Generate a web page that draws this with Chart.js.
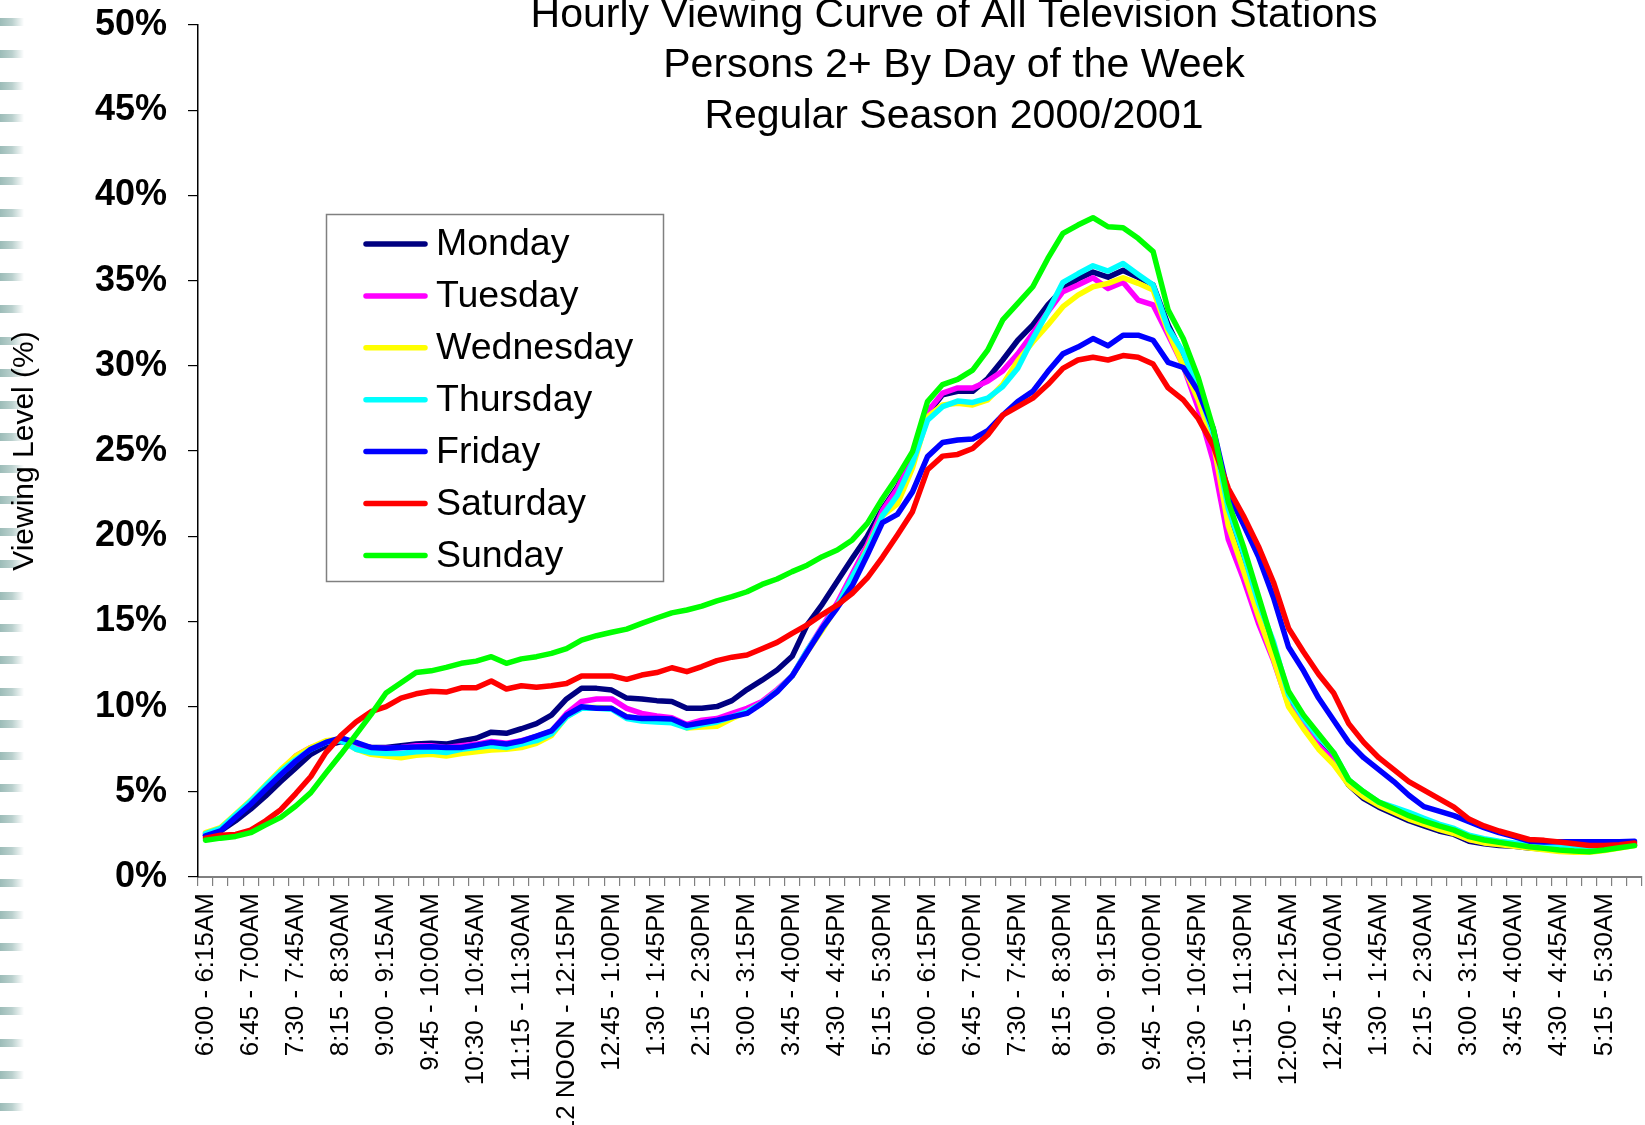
<!DOCTYPE html>
<html>
<head>
<meta charset="utf-8">
<script src="https://cdn.jsdelivr.net/npm/chart.js@4.4.1/dist/chart.umd.min.js"></script>
<style>
html,body{margin:0;padding:0;background:#fff;}
#wrap{position:relative;width:1645px;height:1125px;overflow:hidden;background:#fff;}
#deco{position:absolute;left:0;top:0;width:24px;height:1125px;
 background:
  linear-gradient(to right, rgba(255,255,255,0) 0%, rgba(255,255,255,0.3) 50%, rgba(255,255,255,1) 100%),
  repeating-linear-gradient(to bottom, rgba(0,0,0,0) 0px, rgba(0,0,0,0) 18px, #9cbcb8 18px, #9cbcb8 26px, rgba(0,0,0,0) 26px, rgba(0,0,0,0) 31.9px);}
canvas{position:absolute;left:0;top:0;}
</style>
</head>
<body>
<div id="wrap">
<div id="deco"></div>
<canvas id="c" width="1645" height="1125"></canvas>
</div>
<script>
const titleLines = ["Hourly Viewing Curve of All Television Stations", "Persons 2+ By Day of the Week", "Regular Season 2000/2001"];
const yAxisTitle = "Viewing Level (%)";

const categories = [
"6:00 - 6:15AM","6:15 - 6:30AM","6:30 - 6:45AM","6:45 - 7:00AM","7:00 - 7:15AM","7:15 - 7:30AM","7:30 - 7:45AM","7:45 - 8:00AM",
"8:00 - 8:15AM","8:15 - 8:30AM","8:30 - 8:45AM","8:45 - 9:00AM","9:00 - 9:15AM","9:15 - 9:30AM","9:30 - 9:45AM","9:45 - 10:00AM",
"10:00 - 10:15AM","10:15 - 10:30AM","10:30 - 10:45AM","10:45 - 11:00AM","11:00 - 11:15AM","11:15 - 11:30AM","11:30 - 11:45AM","11:45 - 12 NOON",
"12 NOON - 12:15PM","12:15 - 12:30PM","12:30 - 12:45PM","12:45 - 1:00PM","1:00 - 1:15PM","1:15 - 1:30PM","1:30 - 1:45PM","1:45 - 2:00PM",
"2:00 - 2:15PM","2:15 - 2:30PM","2:30 - 2:45PM","2:45 - 3:00PM","3:00 - 3:15PM","3:15 - 3:30PM","3:30 - 3:45PM","3:45 - 4:00PM",
"4:00 - 4:15PM","4:15 - 4:30PM","4:30 - 4:45PM","4:45 - 5:00PM","5:00 - 5:15PM","5:15 - 5:30PM","5:30 - 5:45PM","5:45 - 6:00PM",
"6:00 - 6:15PM","6:15 - 6:30PM","6:30 - 6:45PM","6:45 - 7:00PM","7:00 - 7:15PM","7:15 - 7:30PM","7:30 - 7:45PM","7:45 - 8:00PM",
"8:00 - 8:15PM","8:15 - 8:30PM","8:30 - 8:45PM","8:45 - 9:00PM","9:00 - 9:15PM","9:15 - 9:30PM","9:30 - 9:45PM","9:45 - 10:00PM",
"10:00 - 10:15PM","10:15 - 10:30PM","10:30 - 10:45PM","10:45 - 11:00PM","11:00 - 11:15PM","11:15 - 11:30PM","11:30 - 11:45PM","11:45 - 12:00AM",
"12:00 - 12:15AM","12:15 - 12:30AM","12:30 - 12:45AM","12:45 - 1:00AM","1:00 - 1:15AM","1:15 - 1:30AM","1:30 - 1:45AM","1:45 - 2:00AM",
"2:00 - 2:15AM","2:15 - 2:30AM","2:30 - 2:45AM","2:45 - 3:00AM","3:00 - 3:15AM","3:15 - 3:30AM","3:30 - 3:45AM","3:45 - 4:00AM",
"4:00 - 4:15AM","4:15 - 4:30AM","4:30 - 4:45AM","4:45 - 5:00AM","5:00 - 5:15AM","5:15 - 5:30AM","5:30 - 5:45AM","5:45 - 6:00AM"
];

const seriesNames = ["Monday","Tuesday","Wednesday","Thursday","Friday","Saturday","Sunday"];
const seriesColors = ["#000080","#FF00FF","#FFFF00","#00FFFF","#0000FF","#FF0000","#00FF00"];

const monday = [
2.42,2.7,3.3,3.98,4.76,5.6,6.4,7.2,7.7,7.95,7.75,7.6,7.6,7.7,7.8,7.85,
7.8,7.98,8.14,8.5,8.43,8.7,9.0,9.5,10.45,11.07,11.07,10.97,10.5,10.45,10.35,10.3,
9.9,9.9,10.0,10.35,11.0,11.55,12.15,12.95,14.8,16.0,17.35,18.7,20.0,21.6,22.9,24.6,
27.2,28.3,28.5,28.5,29.25,30.34,31.5,32.4,33.57,34.5,35.1,35.5,35.2,35.6,35.2,34.74,
32.4,30.6,28.6,26.0,21.5,18.8,16.0,13.3,10.5,9.0,7.8,6.8,5.4,4.6,4.1,3.7,
3.3,3.0,2.7,2.5,2.1,1.95,1.85,1.8,1.7,1.65,1.6,1.6,1.6,1.65,1.75,1.9];

const tuesday = [
2.5,2.8,3.6,4.4,5.3,6.2,7.1,7.6,7.9,8.1,7.8,7.6,7.55,7.6,7.7,7.7,
7.6,7.7,7.8,7.95,7.85,8.0,8.25,8.55,9.6,10.3,10.45,10.45,9.9,9.6,9.45,9.35,
8.95,9.2,9.3,9.6,9.9,10.3,11.0,11.8,13.3,14.7,16.1,17.8,19.5,21.5,22.8,24.6,
27.3,28.4,28.7,28.7,29.1,29.7,30.7,31.9,33.17,34.35,34.74,35.17,34.54,34.9,33.86,33.57,
31.8,30.0,27.5,24.4,19.8,17.5,14.9,12.7,10.1,9.0,7.7,6.8,5.5,4.8,4.3,3.9,
3.5,3.15,2.85,2.6,2.2,2.05,1.95,1.85,1.75,1.65,1.6,1.55,1.55,1.6,1.75,1.9];

const wednesday = [
2.6,2.9,3.7,4.5,5.4,6.3,7.1,7.6,8.0,8.1,7.5,7.2,7.1,7.0,7.15,7.2,
7.1,7.25,7.35,7.45,7.5,7.6,7.85,8.3,9.4,9.95,9.95,9.9,9.4,9.25,9.2,9.2,
8.75,8.8,8.85,9.3,9.7,10.2,10.9,11.8,13.2,14.5,15.9,17.5,19.3,21.2,21.9,24.0,
27.0,27.7,27.8,27.7,28.0,28.9,30.3,31.4,32.4,33.47,34.15,34.64,34.84,35.17,34.84,34.45,
32.0,30.0,28.0,25.5,20.6,18.0,15.3,12.8,10.0,8.7,7.5,6.6,5.4,4.7,4.2,3.8,
3.4,3.1,2.8,2.55,2.2,2.0,1.9,1.8,1.7,1.6,1.5,1.45,1.45,1.55,1.7,1.85];

const thursday = [
2.55,2.85,3.65,4.45,5.35,6.2,6.9,7.5,7.9,8.0,7.5,7.3,7.25,7.25,7.35,7.4,
7.3,7.5,7.6,7.7,7.6,7.8,8.0,8.4,9.4,9.9,9.9,9.85,9.3,9.15,9.1,9.05,
8.75,8.95,9.1,9.4,9.7,10.2,10.9,11.8,13.3,14.6,15.9,17.6,19.2,21.2,22.4,24.3,
26.8,27.6,27.93,27.85,28.1,28.78,29.86,31.6,33.17,34.9,35.4,35.87,35.56,36.0,35.36,34.74,
32.2,30.8,28.6,26.0,21.6,19.0,16.1,13.8,10.7,9.3,8.2,7.3,5.7,5.0,4.4,4.1,
3.8,3.45,3.1,2.85,2.45,2.25,2.1,2.0,1.9,1.8,1.75,1.7,1.65,1.7,1.85,2.05];

const friday = [
2.42,2.7,3.5,4.27,5.15,6.0,6.8,7.5,7.9,8.17,7.9,7.6,7.55,7.6,7.63,7.65,
7.6,7.6,7.74,7.9,7.8,7.98,8.27,8.57,9.5,9.99,9.9,9.9,9.4,9.3,9.3,9.27,
8.9,9.05,9.2,9.4,9.6,10.19,10.87,11.8,13.2,14.6,15.8,17.1,18.9,20.8,21.28,22.6,
24.67,25.5,25.65,25.7,26.2,27.1,27.9,28.5,29.66,30.7,31.1,31.6,31.18,31.8,31.8,31.5,
30.2,29.9,28.5,26.3,22.5,20.7,18.8,16.4,13.5,12.1,10.5,9.2,7.9,7.0,6.3,5.6,
4.8,4.13,3.87,3.6,3.25,2.9,2.6,2.37,2.1,2.05,2.07,2.07,2.07,2.07,2.07,2.1];

const saturday = [
2.28,2.45,2.5,2.75,3.3,3.95,4.9,5.9,7.3,8.3,9.1,9.7,10.0,10.5,10.75,10.9,
10.85,11.1,11.1,11.5,11.03,11.22,11.13,11.22,11.36,11.8,11.8,11.8,11.6,11.85,12.0,12.28,
12.05,12.35,12.7,12.9,13.03,13.4,13.77,14.3,14.8,15.4,15.96,16.65,17.56,18.76,20.07,21.44,
23.9,24.7,24.8,25.15,25.94,27.1,27.6,28.1,28.9,29.85,30.34,30.5,30.34,30.6,30.5,30.1,
28.7,28.0,26.9,25.3,22.8,21.2,19.4,17.3,14.6,13.2,11.9,10.8,9.0,7.9,7.0,6.3,
5.6,5.1,4.6,4.1,3.4,3.0,2.7,2.45,2.2,2.15,2.05,1.95,1.85,1.85,1.9,2.0];

const sunday = [
2.16,2.28,2.38,2.6,3.06,3.5,4.17,4.95,6.1,7.2,8.36,9.53,10.8,11.4,12.0,12.1,
12.3,12.54,12.67,12.93,12.54,12.8,12.93,13.12,13.4,13.9,14.16,14.36,14.55,14.88,15.2,15.5,
15.67,15.9,16.2,16.45,16.74,17.17,17.49,17.92,18.3,18.8,19.19,19.78,20.75,22.2,23.5,24.96,
27.9,28.9,29.2,29.75,30.92,32.69,33.66,34.64,36.3,37.77,38.26,38.69,38.16,38.1,37.48,36.7,
33.27,31.6,29.3,26.3,22.0,19.4,16.5,13.6,10.9,9.5,8.4,7.3,5.7,5.0,4.4,4.0,
3.6,3.28,3.0,2.75,2.37,2.17,2.03,1.9,1.78,1.68,1.58,1.52,1.48,1.58,1.72,1.84];

const seriesValues = [monday, tuesday, wednesday, thursday, friday, saturday, sunday];

const yMin = 0, yMax = 50, yStep = 5;
const labelEvery = 3;

const FONT = '"Liberation Sans", Arial, Helvetica, sans-serif';

const overlay = {
  id: 'overlay',
  afterDraw(chart) {
    const ctx = chart.ctx;
    ctx.save();
    // title
    ctx.fillStyle = '#000';
    ctx.font = '41px ' + FONT;
    ctx.textAlign = 'center';
    ctx.textBaseline = 'alphabetic';
    titleLines.forEach((t, i) => ctx.fillText(t, 954, 26.5 + 50.5 * i));
    // legend
    const bx = 326, by = 214, bw = 337, bh = 367;
    ctx.fillStyle = '#fff';
    ctx.fillRect(bx, by, bw, bh);
    ctx.strokeStyle = '#808080';
    ctx.lineWidth = 1.5;
    ctx.strokeRect(bx + 0.5, by + 0.5, bw, bh);
    chart.data.datasets.forEach((ds, i) => {
      const y = 244 + 51.9 * i;
      ctx.strokeStyle = ds.borderColor;
      ctx.lineWidth = 5.5;
      ctx.lineCap = 'round';
      ctx.beginPath();
      ctx.moveTo(366, y);
      ctx.lineTo(425, y);
      ctx.stroke();
      ctx.fillStyle = '#000';
      ctx.font = '37.5px ' + FONT;
      ctx.textAlign = 'left';
      ctx.textBaseline = 'middle';
      ctx.fillText(ds.label, 436, y + 1);
    });
    ctx.restore();
  }
};

new Chart(document.getElementById('c'), {
  type: 'line',
  data: {
    labels: categories,
    datasets: seriesNames.map((name, i) => ({
      label: name,
      data: seriesValues[i],
      borderColor: seriesColors[i],
      backgroundColor: seriesColors[i],
      borderWidth: 5.5,
      pointRadius: 0,
      pointHoverRadius: 0,
      tension: 0,
      fill: false,
      borderJoinStyle: 'round',
      borderCapStyle: 'round',
      order: seriesNames.length - 1 - i
    }))
  },
  options: {
    responsive: false,
    animation: false,
    events: [],
    layout: { padding: { left: 0, top: 25, right: 3, bottom: 0 } },
    plugins: {
      legend: { display: false },
      title: { display: false },
      tooltip: { enabled: false }
    },
    scales: {
      x: {
        type: 'category',
        offset: true,
        grid: { display: true, drawOnChartArea: false, drawTicks: true, tickLength: 9, color: '#808080', lineWidth: 1.2, offset: true },
        border: { display: true, color: '#808080', width: 2 },
        ticks: {
          autoSkip: false,
          minRotation: 90,
          maxRotation: 90,
          padding: 7,
          color: '#000',
          font: { family: FONT, size: 26 },
          callback: function(v, idx) { return idx % labelEvery === 0 ? categories[idx] : ''; }
        },
        afterFit: function(s) { s.height = 248; s.paddingLeft = 0; s.paddingRight = 0; }
      },
      y: {
        min: yMin, max: yMax,
        grid: { display: true, drawOnChartArea: false, drawTicks: true, tickLength: 10, color: '#000', lineWidth: 1.2 },
        border: { display: true, color: '#000', width: 1.5 },
        ticks: {
          stepSize: yStep,
          padding: 21,
          color: '#000',
          font: { family: FONT, size: 36, weight: 'bold' },
          callback: function(v) { return v + '%'; }
        },
        title: { display: true, text: yAxisTitle, color: '#000', font: { family: FONT, size: 30 }, padding: { top: 7, bottom: 0 } },
        afterFit: function(s) { s.width = 198; s.paddingTop = 0; s.paddingBottom = 0; }
      }
    }
  },
  plugins: [overlay]
});
</script>
</body>
</html>
